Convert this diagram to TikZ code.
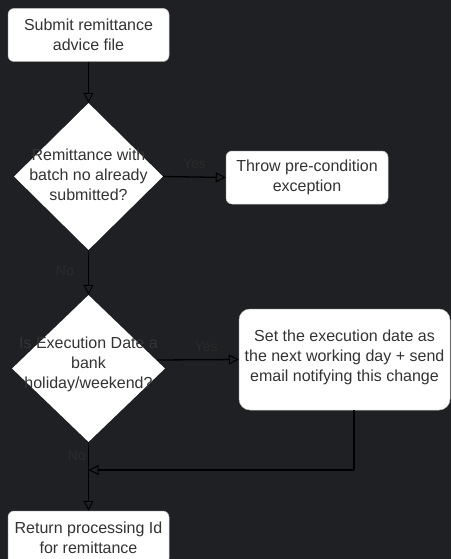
\documentclass[tikz,border=0pt]{standalone}
\usepackage{fontspec}
\setmainfont{Liberation Sans}
\usetikzlibrary{arrows.meta,shapes.geometric}
\definecolor{bgc}{HTML}{1E2024}
\definecolor{txt}{HTML}{333333}
\definecolor{lbl}{HTML}{2B2B2B}
\begin{document}
\begin{tikzpicture}[x=1pt,y=-1pt,
  every node/.style={font=\fontsize{16}{20}\selectfont, text=txt},
  procbox/.style={rectangle, rounded corners=6pt, fill=white, draw=gray!50, line width=0.5pt, inner sep=0pt, align=center},
  decision/.style={diamond, fill=white, draw=none, inner sep=0pt},
  dtext/.style={align=center, inner sep=0pt},
  elabel/.style={text=lbl, inner sep=0pt, font=\fontsize{14}{16}\selectfont},
  flow/.style={line width=1.3pt, black, -{Triangle[open, length=10pt, width=10pt, line width=1pt]}},
  plain/.style={line width=1.3pt, black}]
\fill[bgc] (0,0) rectangle (451,559);
\useasboundingbox (0,0) rectangle (451,559);
\begin{scope}
\clip (0,0) rectangle (451,559);
\node[procbox, minimum width=161pt, minimum height=53pt] (b1) at (88.5,35) {Submit remittance\\advice file};
\node[decision, minimum width=149pt, minimum height=147pt] (d1) at (88.5,176.5) {};
\node[dtext] (t1) at (88.5,175) {Remittance with\\batch no already\\submitted?};
\node[procbox, minimum width=162pt, minimum height=53pt] (b2) at (307,177.5) {Throw pre-condition\\exception};
\node[decision, minimum width=153pt, minimum height=147pt] (d2) at (88.5,368.5) {};
\node[dtext] (t2) at (88.5,364.5) {Is Execution Date a\\bank\\holiday/weekend?};
\node[procbox, rounded corners=11pt, minimum width=211pt, minimum height=101pt] (b3) at (344.5,359.5) {};
\node[dtext] (t3) at (344.5,357) {Set the execution date as\\the next working day + send\\email notifying this change};
\node[procbox, minimum width=161pt, minimum height=53pt] (b4) at (88.5,537.5) {Return processing Id\\for remittance};
\coordinate (d2e) at (157.5,360);
\coordinate (m) at (88.5,470);
\coordinate (c3) at (354,470);
\draw[flow] (b1.south) -- (d1.north);
\draw[flow] (d1.east) -- (b2.west) node[elabel, pos=0.5, above=8pt] (y1) {Yes};
\draw[flow] (d1.south) -- (d2.north) node[elabel, pos=0.45, left=14pt] (n1) {No};
\draw[flow] (d2e) -- (b3.west) node[elabel, pos=0.6, above=7pt] (y2) {Yes};
\draw[plain] (b3.south -| c3) -- (c3);
\draw[flow] (c3) -- (m);
\draw[flow] (d2.south) -- (b4.north) node[elabel, pos=0.2, left=2pt] (n2) {No};
\end{scope}
\end{tikzpicture}
\end{document}
